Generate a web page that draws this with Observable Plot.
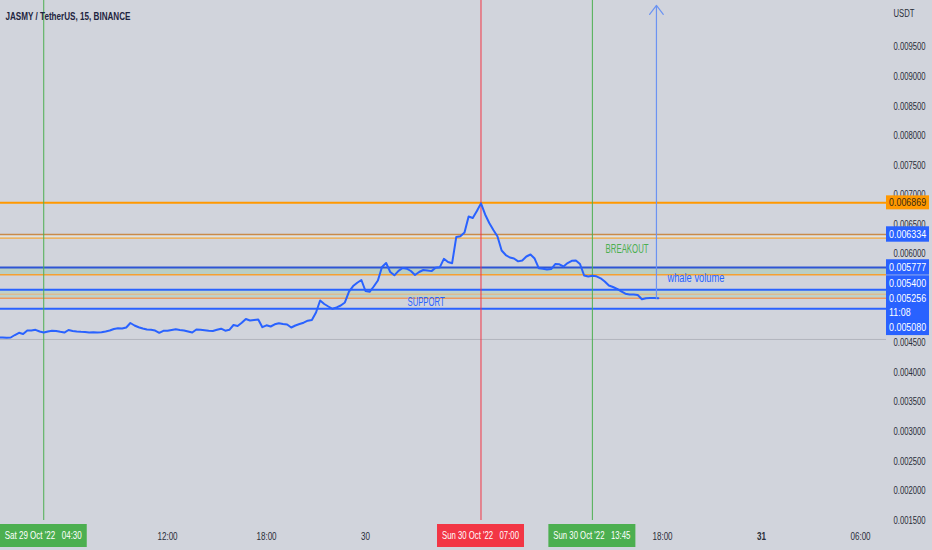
<!DOCTYPE html>
<html><head><meta charset="utf-8">
<script src="https://cdn.jsdelivr.net/npm/d3@7"></script>
<script src="https://cdn.jsdelivr.net/npm/@observablehq/plot@0.6"></script>
<style>
html,body{margin:0;padding:0;background:#d1d4dc;overflow:hidden;}
#chart svg{display:block;}
</style></head>
<body><div id="chart"></div>
<script>
// ---------- data ----------
const symbolTitle = "JASMY / TetherUS, 15, BINANCE";
const currency = "USDT";
const seriesStart = "2022-10-29T01:45:00Z";
const barMinutes = 15;
const closes = [
0.004593,0.004593,0.004588,0.004593,0.004635,0.004672,0.004652,0.004711,0.004711,0.004723,
0.004694,0.004677,0.004694,0.004706,0.004703,0.004689,0.004677,0.004720,0.004703,0.004694,
0.004689,0.004686,0.004677,0.004682,0.004677,0.004682,0.004694,0.004711,0.004737,0.004749,
0.004745,0.004762,0.004838,0.004796,0.004767,0.004745,0.004728,0.004723,0.004711,0.004672,
0.004706,0.004706,0.004720,0.004731,0.004720,0.004711,0.004694,0.004677,0.004728,0.004723,
0.004714,0.004706,0.004703,0.004723,0.004742,0.004708,0.004723,0.004804,0.004787,0.004841,
0.004906,0.004880,0.004889,0.004897,0.004767,0.004799,0.004779,0.004816,0.004835,0.004821,
0.004813,0.004762,0.004796,0.004821,0.004843,0.004877,0.004889,0.005015,0.005218,0.005159,
0.005117,0.005078,0.005103,0.005134,0.005185,0.005370,0.005463,0.005518,0.005565,0.005379,
0.005365,0.005455,0.005556,0.005784,0.005852,0.005700,0.005644,0.005720,0.005767,0.005756,
0.005717,0.005649,0.005700,0.005734,0.005725,0.005715,0.005771,0.005779,0.005923,0.005869,
0.005849,0.006290,0.006304,0.006367,0.006638,0.006613,0.006731,0.006860,0.006673,0.006529,
0.006410,0.006300,0.006063,0.005987,0.005945,0.005928,0.005880,0.005894,0.005962,0.005996,
0.005928,0.005764,0.005756,0.005742,0.005750,0.005835,0.005830,0.005793,0.005852,0.005889,
0.005894,0.005835,0.005641,0.005624,0.005636,0.005627,0.005594,0.005539,0.005472,0.005446,
0.005416,0.005374,0.005333,0.005320,0.005320,0.005311,0.005239,0.005256,0.005261,0.005262,
0.005256];
const xDomainIso = ["2022-10-29T01:52:44Z", "2022-10-31T07:34:33Z"];
const yDomain = [0.0015, 0.010289];
const yTicks = [0.0015,0.002,0.0025,0.003,0.0035,0.004,0.0045,0.005,0.0055,0.006,0.0065,0.007,0.0075,0.008,0.0085,0.009,0.0095];
const xTickIso = ["2022-10-29T12:00:00Z","2022-10-29T18:00:00Z","2022-10-30T00:00:00Z","2022-10-30T18:00:00Z","2022-10-31T06:00:00Z"];
const xTickLabels = ["12:00","18:00","30","18:00","06:00"];
const boldTickIso = ["2022-10-31T00:00:00Z"];
const boldTickLabels = ["31"];
const levelValues = [0.006869, 0.006334, 0.006271, 0.005777, 0.005653, 0.005400, 0.005325, 0.005256, 0.005080, 0.004560];
const levelColors = ["#ff9800", "#c98a4a", "#f5a83c", "#2f55d4", "#f5a030", "#2962ff", "#e8b27a", "#ee9a5e", "#2962ff", "#b2b5be"];
const levelWidths = [2, 1.5, 1.2, 2, 1.5, 2, 1, 1.5, 2, 1];
const bandLows = [0.006271, 0.005653, 0.005256];
const bandHighs = [0.006334, 0.005777, 0.005400];
const bandColors = ["#dfe3e3", "#b9cec4", "#bfd2c9"];
const markerIso = ["2022-10-29T04:30:00Z", "2022-10-30T07:00:00Z", "2022-10-30T13:45:00Z"];
const markerLabels = ["Sat 29 Oct '22\u00a0\u00a0\u00a004:30", "Sun 30 Oct '22\u00a0\u00a0\u00a007:00", "Sun 30 Oct '22\u00a0\u00a0\u00a013:45"];
const markerColors = ["#4caf50", "#f23645", "#4caf50"];
const noteTexts = ["BREAKOUT", "whale volume", "SUPPORT"];
const noteIso = ["2022-10-30T14:33:00Z", "2022-10-30T18:18:00Z", "2022-10-30T02:33:00Z"];
const notePrices = [0.006080, 0.005590, 0.005184];
const noteColors = ["#4caf50", "#2962ff", "#2962ff"];
const arrowIso = "2022-10-30T17:38:00Z";
const arrowFrom = 0.005256;
const arrowTo = 0.010205;
const tagTexts = ["0.006869", "0.006334", "0.005777", "0.005400", "0.005256", "11:08", "0.005080"];
const tagPrices = [0.006869, 0.006334, 0.005777, 0.005400, 0.005256, 0.005256, 0.005080];
const tagFills = ["#ff9800", "#2962ff", "#2962ff", "#2962ff", "#2962ff", "#2962ff", "#2962ff"];
const tagTextColors = ["#3a2a10", "#ffffff", "#ffffff", "#ffffff", "#ffffff", "#ffffff", "#ffffff"];
const currentTagIndex = 4;

// ---------- build ----------
const FONT = "'Liberation Sans','Arial',sans-serif";
const t0 = new Date(seriesStart).getTime();
const bars = closes.map((p, i) => ({t: new Date(t0 + i * barMinutes * 60000), p}));
const levels = levelValues.map((v, i) => ({v, c: levelColors[i], w: levelWidths[i]}));
const bands = bandLows.map((lo, i) => ({lo, hi: bandHighs[i], c: bandColors[i]}));
const markers = markerIso.map((s, i) => ({t: new Date(s), label: markerLabels[i], c: markerColors[i]}));
const notes = noteTexts.map((s, i) => ({t: new Date(noteIso[i]), p: notePrices[i], s, c: noteColors[i]}));
const xTickMap = new Map(xTickIso.map((s, i) => [+new Date(s), xTickLabels[i]]));
const boldTickMap = new Map(boldTickIso.map((s, i) => [+new Date(s), boldTickLabels[i]]));

const chart = Plot.plot({
  width: 932, height: 550,
  marginLeft: 0, marginRight: 46, marginTop: 0, marginBottom: 30,
  style: {background: "#d1d4dc", fontFamily: FONT, fontSize: "10px", color: "#2a2e39", overflow: "visible"},
  x: {type: "utc", domain: xDomainIso.map(s => new Date(s)), axis: null},
  y: {domain: yDomain, axis: null},
  marks: [
    Plot.rect(bands, {y1: "lo", y2: "hi", fill: "c"}),
    ...levels.map(l => Plot.ruleY([l.v], {stroke: l.c, strokeWidth: l.w})),
    Plot.ruleX(markers, {x: "t", stroke: "c", strokeWidth: 1}),
    Plot.line(bars, {x: "t", y: "p", stroke: "#2962ff", strokeWidth: 2, strokeLinejoin: "round"}),
    Plot.arrow([{t: new Date(arrowIso), a: arrowFrom, b: arrowTo}], {x1: "t", x2: "t", y1: "a", y2: "b", stroke: "#6b93f2", strokeWidth: 1.2, headLength: 14, headAngle: 75}),
    Plot.text(notes, {x: "t", y: "p", text: "s", fill: "c", textAnchor: "start", fontSize: 12}),
    Plot.axisY({ticks: yTicks, anchor: "right", tickSize: 0, tickPadding: 7, tickFormat: d => d.toFixed(6), label: null, fontSize: 10}),
    Plot.axisX({ticks: xTickIso.map(s => new Date(s)), anchor: "bottom", tickSize: 0, tickPadding: 12, tickFormat: d => xTickMap.get(+d), label: null, fontSize: 10.5}),
    Plot.axisX({ticks: boldTickIso.map(s => new Date(s)), anchor: "bottom", tickSize: 0, tickPadding: 12, tickFormat: d => boldTickMap.get(+d), label: null, fontSize: 10.5, fontWeight: "bold"}),
    Plot.text([symbolTitle], {frameAnchor: "top-left", dx: 5, dy: 16, lineAnchor: "middle", textAnchor: "start", fontWeight: "bold", fontSize: 11.5, fill: "#1e2440"}),
    Plot.text([currency], {frameAnchor: "top-right", dx: 7, dy: 13, lineAnchor: "middle", textAnchor: "start", fontSize: 10})
  ]
});

// ---------- price tags and time tags, positioned with the chart's own scales ----------
const sx = chart.scale("x"), sy = chart.scale("y");
const svg = d3.select(chart);
const right = 932 - 46;
const ys = tagPrices.map(p => sy.apply(p));
const rowH = 14.8;
for (let i = currentTagIndex - 1; i >= 0; i--) ys[i] = Math.min(ys[i], ys[i + 1] - rowH);
for (let i = currentTagIndex + 1; i < ys.length; i++) ys[i] = Math.max(ys[i], ys[i - 1] + rowH);
const tg = svg.append("g").attr("class", "tags").attr("font-family", FONT).attr("font-size", 11).attr("text-anchor", "start");
tagTexts.forEach((s, i) => {
  const h = i === 0 ? 14 : rowH + 0.6;
  tg.append("rect").attr("x", right).attr("y", ys[i] - h / 2).attr("width", 43).attr("height", h).attr("fill", tagFills[i]);
});
tagTexts.forEach((s, i) => {
  tg.append("text").attr("x", right + 3).attr("y", ys[i]).attr("dy", "0.35em").attr("fill", tagTextColors[i]).text(s);
});
const mg = svg.append("g").attr("class", "dates").attr("font-family", FONT).attr("font-size", 10.5).attr("text-anchor", "middle");
const bottom = 550 - 30;
markers.forEach(m => {
  const cx = sx.apply(m.t);
  mg.append("rect").attr("x", cx - 43.5).attr("y", bottom + 4).attr("width", 87).attr("height", 23).attr("fill", m.c);
  mg.append("text").attr("x", cx).attr("y", bottom + 15.5).attr("dy", "0.35em").attr("fill", "#ffffff").text(m.label);
});
document.getElementById("chart").appendChild(chart);

// ---------- narrow the lettering to the condensed look of the original ----------
const fixedWidths = new Map([[symbolTitle, 125], ["BREAKOUT", 43], ["whale volume", 57], ["SUPPORT", 37], ...markerLabels.map(s => [s, 77])]);
function squeeze(node, target) {
  node.setAttribute("textLength", target);
  node.setAttribute("lengthAdjust", "spacingAndGlyphs");
}
svg.selectAll("text").each(function () {
  const s = this.textContent;
  const L = this.getComputedTextLength();
  if (!(L > 0)) return;
  if (fixedWidths.has(s)) { squeeze(this, fixedWidths.get(s)); return; }
  const inTags = this.closest("g.tags");
  squeeze(this, L * (inTags ? 0.81 : 0.77));
});
</script>
</body></html>
